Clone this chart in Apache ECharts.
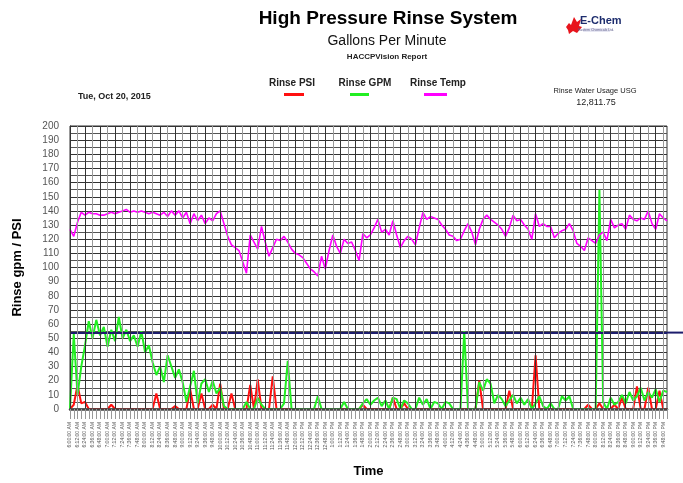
<!DOCTYPE html>
<html><head><meta charset="utf-8">
<script src="https://cdn.jsdelivr.net/npm/echarts@6/dist/echarts.min.js"></script>
<style>html,body{margin:0;padding:0;background:#fff}#c{width:683px;height:483px}</style>
</head><body><div id="c"></div>
<script>
const timeLabels = [
"6:00:00 AM","6:06:00 AM","6:12:00 AM","6:18:00 AM","6:24:00 AM","6:30:00 AM","6:36:00 AM","6:42:00 AM","6:48:00 AM","6:54:00 AM",
"7:00:00 AM","7:06:00 AM","7:12:00 AM","7:18:00 AM","7:24:00 AM","7:30:00 AM","7:36:00 AM","7:42:00 AM","7:48:00 AM","7:54:00 AM",
"8:00:00 AM","8:06:00 AM","8:12:00 AM","8:18:00 AM","8:24:00 AM","8:30:00 AM","8:36:00 AM","8:42:00 AM","8:48:00 AM","8:54:00 AM",
"9:00:00 AM","9:06:00 AM","9:12:00 AM","9:18:00 AM","9:24:00 AM","9:30:00 AM","9:36:00 AM","9:42:00 AM","9:48:00 AM","9:54:00 AM",
"10:00:00 AM","10:06:00 AM","10:12:00 AM","10:18:00 AM","10:24:00 AM","10:30:00 AM","10:36:00 AM","10:42:00 AM","10:48:00 AM","10:54:00 AM",
"11:00:00 AM","11:06:00 AM","11:12:00 AM","11:18:00 AM","11:24:00 AM","11:30:00 AM","11:36:00 AM","11:42:00 AM","11:48:00 AM","11:54:00 AM",
"12:00:00 PM","12:06:00 PM","12:12:00 PM","12:18:00 PM","12:24:00 PM","12:30:00 PM","12:36:00 PM","12:42:00 PM","12:48:00 PM","12:54:00 PM",
"1:00:00 PM","1:06:00 PM","1:12:00 PM","1:18:00 PM","1:24:00 PM","1:30:00 PM","1:36:00 PM","1:42:00 PM","1:48:00 PM","1:54:00 PM",
"2:00:00 PM","2:06:00 PM","2:12:00 PM","2:18:00 PM","2:24:00 PM","2:30:00 PM","2:36:00 PM","2:42:00 PM","2:48:00 PM","2:54:00 PM",
"3:00:00 PM","3:06:00 PM","3:12:00 PM","3:18:00 PM","3:24:00 PM","3:30:00 PM","3:36:00 PM","3:42:00 PM","3:48:00 PM","3:54:00 PM",
"4:00:00 PM","4:06:00 PM","4:12:00 PM","4:18:00 PM","4:24:00 PM","4:30:00 PM","4:36:00 PM","4:42:00 PM","4:48:00 PM","4:54:00 PM",
"5:00:00 PM","5:06:00 PM","5:12:00 PM","5:18:00 PM","5:24:00 PM","5:30:00 PM","5:36:00 PM","5:42:00 PM","5:48:00 PM","5:54:00 PM",
"6:00:00 PM","6:06:00 PM","6:12:00 PM","6:18:00 PM","6:24:00 PM","6:30:00 PM","6:36:00 PM","6:42:00 PM","6:48:00 PM","6:54:00 PM",
"7:00:00 PM","7:06:00 PM","7:12:00 PM","7:18:00 PM","7:24:00 PM","7:30:00 PM","7:36:00 PM","7:42:00 PM","7:48:00 PM","7:54:00 PM",
"8:00:00 PM","8:06:00 PM","8:12:00 PM","8:18:00 PM","8:24:00 PM","8:30:00 PM","8:36:00 PM","8:42:00 PM","8:48:00 PM","8:54:00 PM",
"9:00:00 PM","9:06:00 PM","9:12:00 PM","9:18:00 PM","9:24:00 PM","9:30:00 PM","9:36:00 PM","9:42:00 PM","9:48:00 PM","9:54:00 PM"
];

const rinseTemp = [
127,122,132,139,137,139,138,138,137,137,
138,139,138,139,140,141,139,140,139,140,
139,138,139,138,137,139,136,140,137,140,
135,139,131,138,133,137,131,135,133,138,
140,131,122,116,114,112,104,96,123,118,
113,129,118,108,114,120,119,122,118,113,
110,109,107,103,99,97,94,108,99,112,
123,115,110,120,117,118,112,105,124,121,
123,128,134,125,127,123,133,123,114,119,
122,120,116,128,139,134,136,135,134,130,
127,123,122,119,120,126,131,125,116,127,
134,137,134,132,130,127,122,128,137,133,
134,130,127,120,138,129,131,129,129,121,
124,126,127,131,126,117,115,112,121,119,
117,123,125,119,134,128,130,131,127,137,
134,133,135,134,140,131,127,138,135,133
];

const rinseGPM = [
0,53,10,30,45,62,50,63,52,58,
44,56,48,65,50,56,48,52,44,55,
40,45,33,24,30,19,38,30,22,28,
19,5,16,27,4,18,21,12,20,11,
15,2,0,0,0,0,0,5,0,0,
8,3,0,0,0,0,0,4,34,0,
0,0,0,0,0,0,9,0,0,0,
0,0,0,5,0,0,0,0,4,7,
3,6,8,2,6,0,8,7,0,6,
4,0,0,8,3,7,0,5,4,0,
5,4,0,0,0,55,0,0,0,19,
13,21,18,4,10,7,2,6,10,4,
8,3,7,0,4,9,2,0,4,0,
0,9,6,9,0,0,0,0,0,0,
0,155,5,0,8,3,5,10,4,12,
6,9,15,6,12,8,14,5,13,12
];

const rinsePSI = [
0,3,17,4,5,0,0,0,0,0,
0,3,0,0,0,0,0,0,0,0,
0,0,0,11,0,0,0,0,2,0,
0,0,14,0,0,11,0,0,3,0,
18,0,0,11,0,0,0,0,17,0,
21,0,0,0,23,0,0,0,0,0,
0,0,0,0,0,0,0,0,0,0,
0,0,0,0,0,0,0,0,3,0,
0,0,0,0,0,0,8,0,0,4,
0,0,0,0,0,0,0,0,0,0,
0,0,0,0,0,0,0,0,0,20,
0,0,0,0,0,0,0,13,0,0,
0,0,0,0,38,0,0,0,0,0,
0,0,0,0,0,0,0,0,3,0,
0,4,0,0,0,3,0,8,0,0,
0,16,0,0,15,0,0,13,0,0
];

const limitLine = 54;
const seriesNames = ['Rinse PSI', 'Rinse GPM', 'Rinse Temp'];
const seriesColors = ['#ff1010', '#22ee22', '#ff00ff'];

const FF = '"Liberation Sans", Arial, sans-serif';
const chart = echarts.init(document.getElementById('c'), null, {renderer: 'canvas'});

function txt(id, text, x, y, size, weight, align, fill) {
  return {id: id, type: 'text', x: x, y: y, silent: true,
    style: {text: text, fontSize: size, fontWeight: weight, fontFamily: FF,
      fill: fill || '#000', align: align, verticalAlign: 'middle'}};
}

const graphics = [
  txt('t1', 'High Pressure Rinse System', 388, 19, 19, 'bold', 'center'),
  txt('t2', 'Gallons Per Minute', 387, 41, 14, 'normal', 'center', '#111'),
  txt('t3', 'HACCPVision Report', 387, 57, 8, 'bold', 'center', '#222'),
  txt('l1', seriesNames[0], 292, 83, 10, 'bold', 'center', '#222'),
  txt('l2', seriesNames[1], 365, 83, 10, 'bold', 'center', '#222'),
  txt('l3', seriesNames[2], 438, 83, 10, 'bold', 'center', '#222'),
  txt('d1', 'Tue, Oct 20, 2015', 78, 97, 9, 'bold', 'left', '#222'),
  txt('u1', 'Rinse Water Usage USG', 595, 91, 7.5, 'normal', 'center', '#222'),
  txt('u2', '12,811.75', 596, 103, 9, 'normal', 'center', '#222'),
  {id: 'logo1', type: 'polygon', silent: true,
    shape: {points: [[566,27],[569,23],[571,25],[574,17],[577,22],[581,19],[579,26],[582,27],[577,33],[573,31],[569,34],[568,30]]},
    style: {fill: '#e8141c'}},
  txt('logo2', 'E-Chem', 580, 21, 11, 'bold', 'left', '#1d2d6e'),
  {id: 'logo3', type: 'rect', silent: true, shape: {x: 583, y: 28, width: 27, height: 4}, style: {fill: '#e6e6f2'}},
  txt('logo4', 'Eastern Chemicals Ltd.', 596, 30, 3.5, 'normal', 'center', '#5a5a8a')
];

function legendFor(i, left, w) {
  return {data: [seriesNames[i]], left: left, top: 93, icon: 'rect', itemWidth: w, itemHeight: 3,
    selectedMode: false, formatter: function () { return ''; }, textStyle: {fontSize: 1}, padding: 0};
}

const option = {
  animation: false,
  backgroundColor: '#fff',
  graphic: graphics,
  legend: [legendFor(0, 284, 20), legendFor(1, 350, 19), legendFor(2, 424, 23)],
  grid: {left: 70, right: 16, top: 126, bottom: 65, show: true, borderColor: '#333', borderWidth: 1, backgroundColor: '#fff'},
  xAxis: {
    type: 'category', data: timeLabels, boundaryGap: false, z: 6,
    name: 'Time', nameLocation: 'middle', nameGap: 56,
    nameTextStyle: {fontSize: 13, fontWeight: 'bold', color: '#000', fontFamily: FF},
    axisLine: {show: true, lineStyle: {color: '#444', width: 2.5}},
    axisTick: {show: true, interval: 0, length: 10, lineStyle: {color: '#999'}},
    axisLabel: {interval: 1, rotate: 90, fontSize: 5, color: '#555', margin: 13, fontFamily: FF},
    splitLine: {show: true, interval: 1, lineStyle: {color: ['#333', '#999'], width: 1}}
  },
  yAxis: {
    type: 'value', min: 0, max: 200, interval: 10,
    name: 'Rinse gpm / PSI', nameLocation: 'middle', nameGap: 46,
    nameTextStyle: {fontSize: 13, fontWeight: 'bold', color: '#000', fontFamily: FF},
    axisLine: {show: true, lineStyle: {color: '#222', width: 1}},
    axisTick: {show: false},
    axisLabel: {fontSize: 10, color: '#555', margin: 11, fontFamily: FF},
    splitLine: {show: true, lineStyle: {color: '#333', width: 1}},
    minorTick: {show: false, splitNumber: 2},
    minorSplitLine: {show: true, lineStyle: {color: '#555', width: 1}}
  },
  series: [
    {name: seriesNames[0], type: 'line', data: rinsePSI, symbol: 'none', z: 2,
      itemStyle: {color: seriesColors[0]}, lineStyle: {color: seriesColors[0], width: 2}},
    {name: seriesNames[1], type: 'line', data: rinseGPM, symbol: 'none', z: 3,
      itemStyle: {color: seriesColors[1]}, lineStyle: {color: seriesColors[1], width: 2},
      markLine: {silent: true, symbol: ['none', 'none'], label: {show: false},
        lineStyle: {color: '#1c1c6c', width: 2, type: 'solid'}, data: [{yAxis: limitLine}]}},
    {name: seriesNames[2], type: 'line', data: rinseTemp, symbol: 'none', z: 4,
      itemStyle: {color: seriesColors[2]}, lineStyle: {color: seriesColors[2], width: 1.6}}
  ]
};
chart.setOption(option);

// extend the limit line past the plot to the page edge, using the axis scale
const pEnd = chart.convertToPixel({gridIndex: 0}, [timeLabels.length - 1, limitLine]);
chart.setOption({graphic: [{id: 'ext', type: 'line', silent: true,
  shape: {x1: pEnd[0], y1: pEnd[1], x2: 683, y2: pEnd[1]},
  style: {stroke: '#1c1c6c', lineWidth: 2}}]});
</script>
</body></html>
